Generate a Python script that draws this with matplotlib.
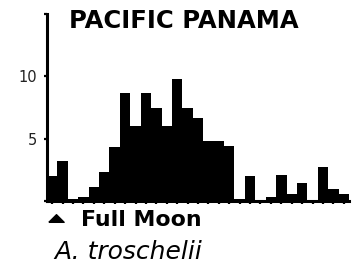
import matplotlib
matplotlib.use("Agg")
import matplotlib.pyplot as plt
from matplotlib.lines import Line2D

# counts per day of the lunar cycle (day 0 = full moon)
days = list(range(29))
counts = [2.0, 3.2, 0.15, 0.35, 1.15, 2.3, 4.3, 8.7, 6.0, 8.7, 7.5, 6.0, 9.8, 7.5,
          6.65, 4.8, 4.8, 4.4, 0.13, 2.0, 0.08, 0.3, 2.05, 0.6, 1.45, 0.1, 2.7, 0.95, 0.55]
ytick_vals = [0, 5, 10, 15]
ytick_labels = ["", "5", "10", ""]

W, H = 352, 265
fig = plt.figure(figsize=(W / 100, H / 100), dpi=100)
ax = fig.add_axes([47 / W, 64 / H, 302 / W, 187 / H])

ax.bar(days, counts, width=1.0, color="black", edgecolor="none")

ax.set_xlim(-0.5, 28.5)
ax.set_ylim(0, 15)
ax.set_xticks(days)
ax.set_xticklabels([])
ax.set_yticks(ytick_vals)
ax.set_yticklabels(ytick_labels)

for s in ["top", "right"]:
    ax.spines[s].set_visible(False)
for s in ["left", "bottom"]:
    ax.spines[s].set_linewidth(2.2)
ax.tick_params(axis="x", direction="out", length=2.5, width=1.6)
ax.tick_params(axis="y", direction="out", length=2.5, width=1.6, pad=5,
               labelsize=10.5, labelcolor="#222222")

# title inside the top of the panel
fig.text(184 / W, 1 - 20.5 / H, "PACIFIC PANAMA", ha="center", va="center",
         fontsize=17.5, fontweight="bold", family="DejaVu Sans")

# full moon marker and label
tri = [(-1, -0.5), (1, -0.5), (0, 0.5), (-1, -0.5)]
fig.add_artist(Line2D([55.5 / W], [1 - 218 / H], marker=tri, markersize=11,
                      color="black", linestyle="none", transform=fig.transFigure))
fig.text(81 / W, 1 - 220 / H, "Full Moon", ha="left", va="center",
         fontsize=15.8, fontweight="bold", family="DejaVu Sans")

fig.text(54 / W, 1 - 252 / H, "A. troschelii", ha="left", va="center",
         fontsize=18, style="italic", family="DejaVu Sans")

fig.savefig("out.png", dpi=100)
